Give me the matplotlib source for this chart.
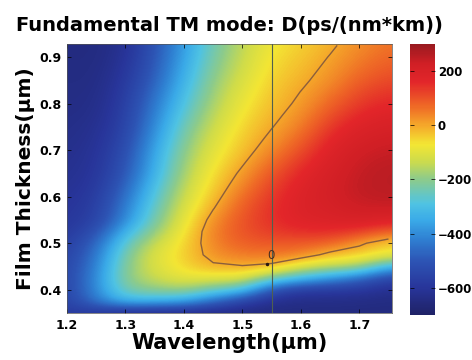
"""
Fundamental TM mode dispersion map — D(ps/(nm*km)) over wavelength / film thickness
"""
import numpy as np
import matplotlib
matplotlib.use("Agg")
import matplotlib.pyplot as plt
from matplotlib.colors import LinearSegmentedColormap

plt.rcParams["font.family"] = ["DejaVu Sans"]
plt.rcParams["font.weight"] = "bold"

# ──────────────────────────────────────────────────
# data
# ──────────────────────────────────────────────────
wavelength = [1.20, 1.25, 1.30, 1.35, 1.40, 1.45, 1.50, 1.55, 1.60, 1.65, 1.70, 1.75]
thickness_top_down = [0.925, 0.90, 0.875, 0.85, 0.825, 0.80, 0.775, 0.75, 0.725,
                      0.70, 0.675, 0.65, 0.625, 0.60, 0.575, 0.55, 0.525, 0.50,
                      0.475, 0.45, 0.425, 0.40, 0.375, 0.35]

# D rows, one per thickness (top -> bottom), columns = wavelength
D_rows = [
    [-645, -650, -615, -510, -370, -235, -145, -75, -45, -10, 31, 62],
    [-645, -648, -608, -500, -360, -225, -135, -63, -35, 3, 45, 78],
    [-644, -645, -598, -490, -345, -210, -125, -55, -24, 15, 62, 95],
    [-642, -642, -588, -475, -330, -195, -110, -45, -12, 27, 85, 115],
    [-640, -638, -578, -455, -310, -180, -95, -36, 1, 50, 110, 140],
    [-638, -634, -570, -435, -290, -165, -80, -27, 12, 75, 135, 160],
    [-636, -628, -562, -418, -265, -148, -66, -16, 27, 105, 160, 185],
    [-633, -620, -555, -400, -240, -130, -52, -3, 47, 135, 185, 205],
    [-630, -614, -542, -380, -220, -112, -40, 14, 75, 160, 205, 225],
    [-626, -608, -528, -360, -200, -95, -28, 36, 105, 180, 225, 240],
    [-622, -603, -514, -345, -185, -78, -9, 65, 135, 195, 238, 250],
    [-618, -598, -500, -330, -170, -60, 14, 95, 160, 208, 245, 255],
    [-613, -590, -475, -305, -150, -45, 37, 120, 175, 215, 248, 255],
    [-607, -580, -450, -280, -130, -28, 67, 135, 185, 215, 245, 250],
    [-600, -570, -425, -255, -110, -3.5, 88, 145, 188, 205, 230, 232],
    [-595, -560, -400, -230, -90, 25, 100, 145, 180, 190, 205, 185],
    [-588, -520, -330, -190, -70, 43, 100, 130, 150, 150, 130, 80],
    [-575, -470, -265, -135, -55, 40, 85, 95, 90, 80, 15, -45],
    [-560, -440, -225, -105, -48, 25, 50, 55, 43, -25, -45, -85],
    [-550, -420, -205, -110, -55, -12, -4, -19, -110, -150, -170, -330],
    [-548, -405, -200, -135, -90, -100, -100, -230, -310, -380, -450, -550],
    [-550, -405, -230, -200, -180, -250, -290, -510, -580, -580, -590, -620],
    [-560, -440, -320, -340, -360, -460, -560, -625, -635, -635, -640, -645],
    [-580, -600, -640, -645, -648, -650, -650, -650, -650, -650, -650, -650],
]

cbar_ticks = [-600, -400, -200, 0, 200]
d_min, d_max = -700, 300
marker_wavelength = 1.55      # vertical guide line
label_wavelength = 1.542      # where the "0" contour label sits

# ──────────────────────────────────────────────────
# colour map (scanned jet look)
# ──────────────────────────────────────────────────
cmap = LinearSegmentedColormap.from_list("scan_jet", [
    (0.00, "#1f2266"), (0.10, "#28359a"), (0.20, "#2d55b5"), (0.28, "#2f80d2"),
    (0.35, "#3aaae8"), (0.41, "#4fc3e3"), (0.50, "#8ccb8c"), (0.57, "#cfdc4a"),
    (0.63, "#f3e634"), (0.70, "#f5a82a"), (0.77, "#ef6a26"), (0.86, "#e3262a"),
    (0.93, "#d01f25"), (1.00, "#981a20"),
])

D = np.array(D_rows, dtype=float)[::-1]          # bottom -> top
lam = np.array(wavelength)
thk = np.array(thickness_top_down)[::-1]
dl = lam[1] - lam[0]
dt = thk[1] - thk[0]

fig = plt.figure(figsize=(4.72, 3.6), dpi=100)
ax = fig.add_axes([0.142, 0.1306, 0.6885, 0.7472])

im = ax.imshow(D, origin="lower", aspect="auto", cmap=cmap,
               vmin=d_min, vmax=d_max, interpolation="bicubic",
               extent=[lam[0] - dl / 2, lam[-1] + dl / 2,
                       thk[0] - dt / 2, thk[-1] + dt / 2])

cs = ax.contour(lam, thk, D, levels=[0], colors="#8b5e3c", linewidths=1.0)

# contour label: dot on the lower branch + "0"
verts = cs.get_paths()[0].vertices
lower = verts[(verts[:, 1] < 0.5) & (verts[:, 0] > 1.46)]
lower = lower[np.argsort(lower[:, 0])]
lab_t = np.interp(label_wavelength, lower[:, 0], lower[:, 1])
ax.plot(label_wavelength, lab_t, marker=".", color="#2a1a10", markersize=3)
ax.annotate("0", (label_wavelength, lab_t), xytext=(0.5, 1.0),
            textcoords="offset points", fontsize=8.5, fontweight="normal",
            color="#4a2e20", ha="left", va="bottom")

ax.axvline(marker_wavelength, color="#4f5f50", lw=0.8)

ax.set_xlim(1.2, 1.756)
ax.set_ylim(0.35, 0.928)
ax.set_xticks([1.2, 1.3, 1.4, 1.5, 1.6, 1.7])
ax.set_yticks([0.4, 0.5, 0.6, 0.7, 0.8, 0.9])
ax.tick_params(direction="in", top=True, right=True, length=3, width=0.5,
               labelsize=9, pad=4)
for s in ax.spines.values():
    s.set_linewidth(0.5)
    s.set_color("#555555")

ax.set_xlabel("Wavelength(μm)", fontsize=15, fontweight="bold", labelpad=1)
ax.set_ylabel("Film Thickness(μm)", fontsize=14.5, fontweight="bold", labelpad=3)
ax.set_title("Fundamental TM mode: D(ps/(nm*km))", fontsize=14,
             fontweight="bold", pad=9)

# colour bar
cax = fig.add_axes([0.8686, 0.125, 0.053, 0.7528])
cb = fig.colorbar(im, cax=cax, ticks=cbar_ticks)
cb.outline.set_visible(False)
cax.tick_params(direction="in", length=3, width=0.5, labelsize=8.5, left=True,
                pad=2)

fig.savefig("out.png", dpi=100)
plt.close(fig)
